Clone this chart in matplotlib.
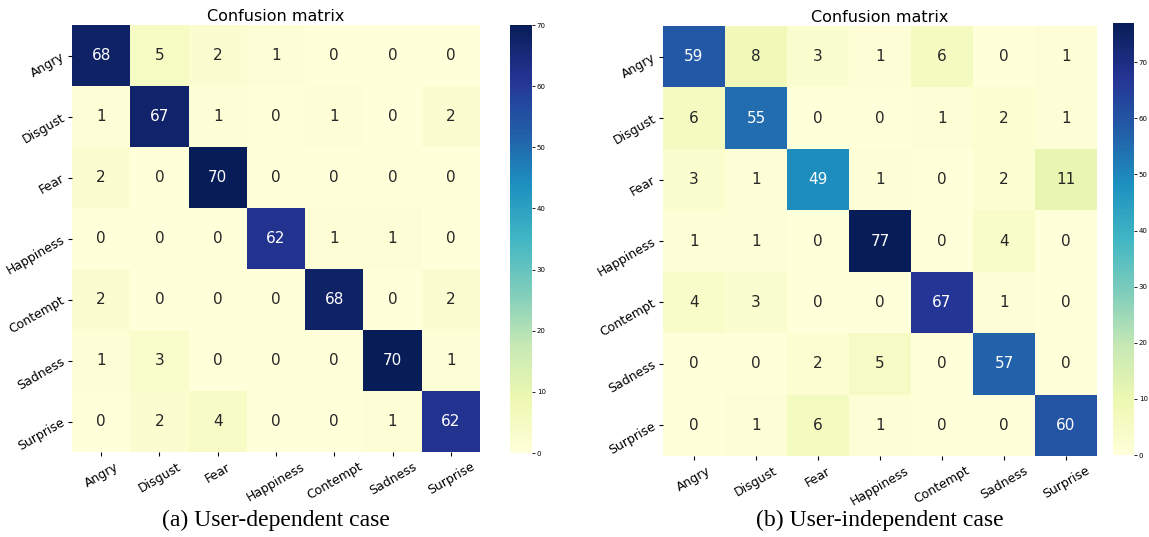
import matplotlib.pyplot as plt
import numpy as np
import seaborn as sns

labels = ["Angry", "Disgust", "Fear", "Happiness", "Contempt", "Sadness", "Surprise"]

# user-dependent case
cm_dep = [
    [68, 5, 2, 1, 0, 0, 0],
    [1, 67, 1, 0, 1, 0, 2],
    [2, 0, 70, 0, 0, 0, 0],
    [0, 0, 0, 62, 1, 1, 0],
    [2, 0, 0, 0, 68, 0, 2],
    [1, 3, 0, 0, 0, 70, 1],
    [0, 2, 4, 0, 0, 1, 62],
]

# user-independent case
cm_ind = [
    [59, 8, 3, 1, 6, 0, 1],
    [6, 55, 0, 0, 1, 2, 1],
    [3, 1, 49, 1, 0, 2, 11],
    [1, 1, 0, 77, 0, 4, 0],
    [4, 3, 0, 0, 67, 1, 0],
    [0, 0, 2, 5, 0, 57, 0],
    [0, 1, 6, 1, 0, 0, 60],
]

captions = ["(a) User-dependent case", "(b) User-independent case"]

W, H = 1149, 537
fig = plt.figure(figsize=(W / 100, H / 100), dpi=100)


def px(x0, y0, x1, y1):
    # pixel box -> figure fraction
    return [x0 / W, 1 - y1 / H, (x1 - x0) / W, (y1 - y0) / H]


boxes = [
    (px(72, 25, 480, 452), px(510, 25, 532, 453)),
    (px(663, 26, 1097, 456), px(1113, 23, 1134, 455)),
]

for cm, cap, (hbox, cbox) in zip([cm_dep, cm_ind], captions, boxes):
    ax = fig.add_axes(hbox)
    cax = fig.add_axes(cbox)
    sns.heatmap(np.array(cm), annot=True, fmt="d", cmap="YlGnBu", ax=ax, cbar_ax=cax,
                xticklabels=labels, yticklabels=labels,
                annot_kws={"size": 11})
    ax.set_title("Confusion matrix", fontsize=11.5, pad=3)
    ax.tick_params(axis="both", labelsize=9, length=3, pad=3)
    plt.setp(ax.get_xticklabels(), rotation=30, ha="center", rotation_mode="default")
    plt.setp(ax.get_yticklabels(), rotation=30, ha="right", va="center",
             rotation_mode="anchor")
    cax.tick_params(labelsize=5, length=2, width=0.6, pad=1.5)
    cx = (hbox[0] + hbox[0] + hbox[2]) / 2
    fig.text(cx, 1 - 520 / H, cap, ha="center", va="center",
             fontsize=17, family="Liberation Serif")

fig.savefig("out.png", dpi=100)
